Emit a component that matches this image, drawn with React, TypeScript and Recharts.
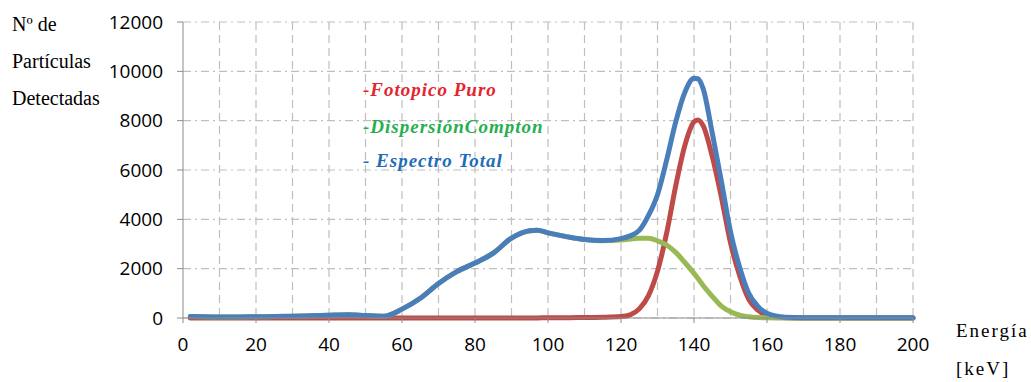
import React from 'react';
import { LineChart, Line, XAxis, YAxis, CartesianGrid } from 'recharts';

const energy = [2, 5, 10, 15, 20, 25, 30, 35, 40, 45, 50, 55, 60, 65, 70, 75, 80, 85, 90, 95, 97, 100, 105, 110, 115, 120, 122.5, 125, 127.5, 130, 132.5, 135, 137.5, 140, 141, 142.5, 145, 147.5, 150, 152.5, 155, 157.5, 160, 165, 170, 180, 190, 200];
const fotopico = [0, 0, 0, 0, 0, 0, 0, 0, 0, 0, 0, 0, 0, 0, 0, 0, 0, 0, 5, 5, 5, 10, 10, 20, 30, 60, 130, 370, 900, 1900, 3440, 5360, 7000, 7950, 8030, 7800, 6550, 4900, 3050, 1720, 760, 320, 120, 15, 0, 0, 0, 0];
const compton = [60, 50, 40, 40, 50, 60, 70, 90, 110, 130, 100, 70, 360, 800, 1400, 1880, 2230, 2630, 3240, 3540, 3560, 3450, 3300, 3180, 3130, 3160, 3200, 3230, 3230, 3130, 2960, 2660, 2250, 1810, 1620, 1320, 880, 480, 250, 110, 50, 20, 10, 0, 0, 0, 0, 0];
const total = [60, 50, 40, 40, 50, 60, 70, 90, 110, 130, 100, 70, 360, 800, 1400, 1880, 2230, 2630, 3240, 3540, 3560, 3450, 3300, 3180, 3140, 3220, 3330, 3550, 4150, 5000, 6400, 7950, 9150, 9720, 9700, 9300, 7500, 5550, 3500, 2060, 1000, 470, 190, 30, 10, 10, 10, 10];

const xTicks = [0, 20, 40, 60, 80, 100, 120, 140, 160, 180, 200];
const yTicks = [0, 2000, 4000, 6000, 8000, 10000, 12000];
const gridX = [10, 20, 30, 40, 50, 60, 70, 80, 90, 100, 110, 120, 130, 140, 150, 160, 170, 180, 190, 200];

const yTitle = ['Nº de', 'Partículas', 'Detectadas'];
const xTitle = ['Energía', '[keV]'];
const legendItems = [
  { text: '-Fotopico Puro', color: '#e3262e' },
  { text: '-DispersiónCompton', color: '#27ae4f' },
  { text: '- Espectro Total', color: '#1f6db6' },
];

const data = energy.map((e, i) => ({ e, fotopico: fotopico[i], compton: compton[i], total: total[i] }));

const W = 1031;
const H = 382;
const margin = { top: 22, right: 118, bottom: 34, left: 123 };
const tickFont = { fontFamily: 'Open Sans', fontSize: 19, fill: '#000' };
const serif = 'Liberation Serif';

export default function App() {
  const vGen = (props: any) => {
    const { xAxis, offset } = props || {};
    if (xAxis && typeof xAxis.scale === 'function') {
      return gridX.map((v) => xAxis.scale(v));
    }
    return gridX.map((v) => offset.left + (v / 200) * offset.width);
  };
  return (
    <div style={{ position: 'absolute', left: 0, top: 0, width: W, height: H, background: '#fff' }}>
      <LineChart width={W} height={H} data={data} margin={margin}>
        <CartesianGrid vertical={false} stroke="#bfbfbf" strokeDasharray="8 4 2 4" strokeWidth={1.2} />
        <CartesianGrid horizontal={false} stroke="#bfbfbf" strokeDasharray="8 5" strokeWidth={1.2} verticalCoordinatesGenerator={vGen} />
        <XAxis
          dataKey="e"
          type="number"
          domain={[0, 200]}
          ticks={xTicks}
          interval={0}
          stroke="#8c8c8c"
          tickSize={5}
          tickMargin={15}
          tick={tickFont}
          height={30}
        />
        <YAxis
          type="number"
          domain={[0, 12000]}
          ticks={yTicks}
          interval={0}
          stroke="#8c8c8c"
          tickSize={6}
          tickMargin={14}
          tick={tickFont}
          width={60}
        />
        <Line type="monotone" dataKey="fotopico" stroke="#be4b48" strokeWidth={5} dot={false} isAnimationActive={false} strokeLinecap="round" />
        <Line type="monotone" dataKey="compton" stroke="#98b954" strokeWidth={5} dot={false} isAnimationActive={false} strokeLinecap="round" />
        <Line type="monotone" dataKey="total" stroke="#4a7ebb" strokeWidth={5} dot={false} isAnimationActive={false} strokeLinecap="round" />
      </LineChart>
      <svg width={W} height={H} style={{ position: 'absolute', left: 0, top: 0, pointerEvents: 'none' }}>
        {yTitle.map((t, i) => (
          <text key={t} x={12} y={31 + i * 37} fontFamily={serif} fontSize={20} fill="#000">{t}</text>
        ))}
        {xTitle.map((t, i) => (
          <text key={t} x={956} y={337 + i * 38} fontFamily={serif} fontSize={19} letterSpacing={2} fill="#000">{t}</text>
        ))}
        {legendItems.map((l, i) => (
          <text key={l.text} x={363} y={[96, 133, 167][i]} fontFamily={serif} fontSize={19} letterSpacing={1} fontWeight="bold" fontStyle="italic" fill={l.color}>{l.text}</text>
        ))}
      </svg>
    </div>
  );
}
